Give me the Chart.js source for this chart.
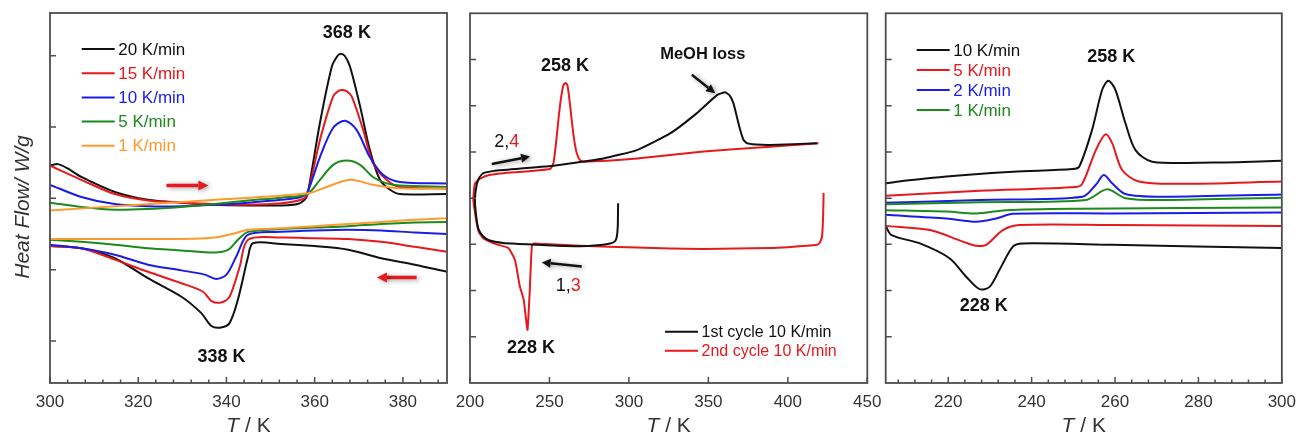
<!DOCTYPE html>
<html>
<head>
<meta charset="utf-8">
<title>DSC heat flow</title>
<script src="https://cdn.jsdelivr.net/npm/chart.js@4.4.1/dist/chart.umd.min.js"></script>
<style>
  body { margin: 0; background: #fff; }
  #wrap { position: relative; width: 1300px; height: 435px; overflow: hidden; }
  canvas { position: absolute; top: 0; }
</style>
</head>
<body>
<div id="wrap">
  <canvas id="p1" width="460" height="435" style="left:0px"></canvas>
  <canvas id="p2" width="470" height="435" style="left:430px"></canvas>
  <canvas id="p3" width="445" height="435" style="left:860px"></canvas>
</div>
<script>
const BLACK = '#111111', RED = '#e5191e', BLUE = '#1c1ce8', GREEN = '#1d8a1d', ORANGE = '#ff9a2e';
const INK = '#333333', FRAME = '#4d4d4d';
const FONT = '"Liberation Sans", Arial, sans-serif';

// ---- left panel: 300-390 K, heating runs (upper) and cooling runs (lower), [T, heat flow] ----
const xTicks1 = [300, 320, 340, 360, 380];
const yTicks1 = [1, 2, 3, 4, 5];
const rates1 = ['20 K/min', '15 K/min', '10 K/min', '5 K/min', '1 K/min'];
const colors1 = [BLACK, RED, BLUE, GREEN, ORANGE];

const heat20 = [[300,3.46],[301.8,3.48],[304,3.42],[307.1,3.30],[314.7,3.09],[322.2,2.98],[329.8,2.94],[337.3,2.91],[344.9,2.90],[352.4,2.90],[356.2,2.92],[357.7,2.98],[358.4,3.06],[361.2,4.06],[363.9,4.85],[365.2,5.00],[365.9,5.03],[366.8,5.00],[368,4.85],[370.3,4.29],[372.5,3.68],[374.8,3.26],[377.1,3.12],[379.3,3.06],[390,3.06]];
const heat15 = [[300,3.46],[307.1,3.26],[314.7,3.06],[322.2,2.97],[329.8,2.94],[337.3,2.92],[344.9,2.91],[352.4,2.93],[356.9,2.98],[358.3,3.05],[361.2,3.82],[364.2,4.43],[365.5,4.51],[366.4,4.52],[367.3,4.50],[368.4,4.43],[371,3.96],[373.2,3.50],[376.3,3.26],[379.3,3.16],[390,3.14]];
const heat10 = [[300,3.19],[307.1,3.02],[314.7,2.92],[322.2,2.89],[329.8,2.89],[337.3,2.91],[344.9,2.94],[352.4,2.98],[356.9,3.02],[358.3,3.08],[361.2,3.58],[364.2,3.99],[366.9,4.09],[369.5,3.96],[372.5,3.58],[375.5,3.33],[379.3,3.23],[390,3.21]];
const heat5 = [[300,2.94],[307.1,2.88],[314.7,2.84],[322.2,2.85],[329.8,2.88],[337.3,2.92],[344.9,2.97],[352.4,3.01],[358.3,3.06],[361.2,3.26],[364.2,3.47],[367.3,3.53],[370.3,3.47],[373.2,3.30],[376.3,3.21],[379.3,3.18],[390,3.16]];
const heat1 = [[300,2.83],[320,2.91],[340,2.99],[358.5,3.07],[362.7,3.16],[368,3.26],[373.2,3.19],[379.3,3.14],[390,3.14]];

const cool20 = [[300,2.33],[307.1,2.30],[314.7,2.16],[322.2,1.88],[329.8,1.62],[334.3,1.39],[336.6,1.21],[338.8,1.19],[340.7,1.25],[342.6,1.58],[344.9,2.18],[346,2.37],[352.4,2.36],[360,2.33],[367.6,2.28],[375.1,2.16],[382.7,2.07],[390,1.97]];
const cool15 = [[300,2.33],[307.1,2.30],[314.7,2.14],[322.2,1.97],[329.8,1.81],[334.7,1.69],[336.6,1.56],[338.8,1.54],[340.7,1.62],[343,2.04],[344.9,2.42],[352.4,2.45],[360,2.44],[367.6,2.43],[375.1,2.39],[382.7,2.32],[390,2.25]];
const cool10 = [[300,2.35],[307.1,2.30],[314.7,2.21],[322.2,2.07],[329.8,1.99],[335.1,1.93],[337.7,1.87],[340,1.93],[342.2,2.18],[344.9,2.49],[352.4,2.53],[360,2.55],[367.6,2.56],[375.1,2.55],[382.7,2.52],[390,2.50]];
const cool5 = [[300,2.42],[307.1,2.39],[314.7,2.35],[322.2,2.30],[329.8,2.27],[337.3,2.24],[340.4,2.28],[342.6,2.42],[344.9,2.53],[352.4,2.57],[360,2.59],[367.6,2.61],[375.1,2.64],[382.7,2.66],[390,2.67]];
const cool1 = [[300,2.43],[314.7,2.43],[329.8,2.43],[337.3,2.45],[341.9,2.51],[344.9,2.56],[352.4,2.58],[360,2.61],[367.6,2.64],[375.1,2.67],[382.7,2.70],[390,2.72]];

const heating1 = [heat20, heat15, heat10, heat5, heat1];
const cooling1 = [cool20, cool15, cool10, cool5, cool1];

// ---- middle panel: two full cycles, points kept in measuring order ----
const xTicks2 = [200, 250, 300, 350, 400, 450];
const yTicks2 = [1, 2, 3, 4, 5, 6, 7];
const cycles2 = ['1st cycle 10 K/min', '2nd cycle 10 K/min'];
const colors2 = [BLACK, RED];

const cycle1 = [[293.2,3.89],[293.0,3.40],[292.4,3.17],[291.3,3.07],[288.2,3.02],[280,2.98],[269.3,2.96],[255,2.97],[242,2.99],[230,3.01],[220.8,3.03],[212,3.09],[208.4,3.17],[205.5,3.32],[204.2,3.53],[203.1,3.96],[204.2,4.29],[206,4.45],[208.4,4.54],[215,4.59],[221,4.61],[252.5,4.70],[284,4.86],[305,5.04],[325.9,5.40],[342.8,5.84],[355.4,6.23],[360.6,6.29],[363.5,6.22],[365.8,6.05],[368,5.75],[370,5.48],[372,5.27],[374.2,5.19],[380,5.16],[388.9,5.15],[418.3,5.19]];
const cycle2 = [[422.5,4.11],[422.2,3.60],[421.5,3.17],[420,3.03],[418.3,2.99],[400,2.94],[388.9,2.92],[346.9,2.90],[305,2.93],[269.3,2.97],[250,3.00],[240.2,3.02],[238.9,2.96],[237.6,2.00],[236.2,1.15],[235.0,1.45],[233.8,1.80],[231.3,2.10],[228.3,2.66],[224.1,2.92],[216.8,3.00],[208.4,3.13],[205.5,3.27],[204.2,3.46],[202.1,3.96],[203.1,4.32],[206.3,4.42],[212,4.50],[221,4.54],[250.4,4.63],[252.5,4.76],[254,5.15],[255.6,5.69],[257.2,6.15],[258.8,6.45],[260.2,6.49],[261.3,6.45],[262.7,6.10],[264,5.69],[265.6,5.25],[267.2,4.97],[269,4.83],[271.3,4.79],[305,4.86],[346.9,5.01],[388.9,5.11],[419.3,5.19]];

// ---- right panel: 205-300 K, heating (upper) and cooling (lower) ----
const xTicks3 = [220, 240, 260, 280, 300];
const yTicks3 = [1, 2, 3, 4, 5, 6, 7];
const rates3 = ['10 K/min', '5 K/min', '2 K/min', '1 K/min'];
const colors3 = [BLACK, RED, BLUE, GREEN];

const h3_10 = [[205,4.32],[210,4.38],[219.6,4.47],[235.5,4.57],[249.8,4.63],[251.4,4.68],[254.5,5.48],[256.9,6.34],[258.4,6.54],[260.1,6.34],[262.5,5.62],[264.9,5.04],[268.9,4.79],[283.2,4.77],[300,4.81]];
const h3_5 = [[205,4.05],[227.5,4.16],[250.6,4.24],[252.2,4.32],[255.4,5.04],[257.7,5.38],[259.3,5.19],[261.7,4.61],[265.7,4.36],[275.2,4.31],[300,4.36]];
const h3_2 = [[205,3.90],[227.5,3.96],[252.2,4.03],[255.4,4.29],[257.3,4.50],[259.3,4.32],[262.5,4.09],[271.3,4.03],[300,4.08]];
const h3_1 = [[205,3.87],[227.5,3.91],[253,3.96],[258.1,4.19],[262.5,4.00],[271.3,3.96],[300,4.01]];
const c3_1 = [[205,3.74],[219.6,3.71],[226.7,3.67],[233.9,3.74],[251.4,3.77],[300,3.80]];
const c3_2 = [[205,3.64],[219.6,3.56],[226.7,3.49],[231.5,3.56],[235.5,3.66],[259.3,3.67],[300,3.69]];
const c3_5 = [[205,3.40],[215.6,3.31],[223.5,3.06],[226.7,2.97],[229.1,2.99],[233.1,3.31],[237.1,3.42],[259.3,3.42],[300,3.40]];
const c3_10 = [[205,3.40],[206.4,3.20],[213.2,3.02],[220.3,2.70],[224.3,2.30],[227.5,2.03],[229.9,2.08],[232.3,2.45],[235.5,2.95],[237.8,3.02],[259.3,2.99],[300,2.92]];

const heating3 = [h3_10, h3_5, h3_2, h3_1];
const cooling3 = [c3_10, c3_5, c3_2, c3_1];

function line(points, color, tension) {
    return {
        data: points.map(p => ({ x: p[0], y: p[1] })),
        borderColor: color,
        borderWidth: 2,
        pointRadius: 0,
        fill: false,
        tension: tension,
        borderJoinStyle: 'round'
    };
}

function arrow(ctx, x1, y1, x2, y2, color, lw, head) {
    const ang = Math.atan2(y2 - y1, x2 - x1);
    const bx = x2 - head * Math.cos(ang), by = y2 - head * Math.sin(ang);
    const hw = head * 0.5;
    ctx.save();
    ctx.shadowColor = 'rgba(0,0,0,0.4)';
    ctx.shadowBlur = 5;
    ctx.shadowOffsetX = 2;
    ctx.shadowOffsetY = 1;
    ctx.strokeStyle = color;
    ctx.fillStyle = color;
    ctx.lineWidth = lw;
    ctx.beginPath();
    ctx.moveTo(x1, y1);
    ctx.lineTo(bx, by);
    ctx.stroke();
    ctx.beginPath();
    ctx.moveTo(x2, y2);
    ctx.lineTo(bx + hw * Math.sin(ang), by - hw * Math.cos(ang));
    ctx.lineTo(bx - hw * Math.sin(ang), by + hw * Math.cos(ang));
    ctx.closePath();
    ctx.fill();
    ctx.restore();
}

// frame, inward ticks, legend, labels, arrows and axis titles
const decor = {
    id: 'decor',
    afterDraw(chart, args, o) {
        const ctx = chart.ctx, a = chart.chartArea;
        const xs = chart.scales.x, ys = chart.scales.y;
        const px = v => xs.getPixelForValue(v), py = v => ys.getPixelForValue(v);
        ctx.save();

        ctx.strokeStyle = FRAME;
        ctx.lineWidth = 1.5;
        ctx.beginPath();
        xs.ticks.forEach(t => { ctx.moveTo(px(t.value), a.bottom); ctx.lineTo(px(t.value), a.bottom - 6); });
        if (o.minor) {
            for (let v = Math.ceil(xs.min / o.minor) * o.minor; v < xs.max; v += o.minor) {
                ctx.moveTo(px(v), a.bottom);
                ctx.lineTo(px(v), a.bottom - 3.5);
            }
        }
        ys.ticks.forEach(t => { ctx.moveTo(a.left, py(t.value)); ctx.lineTo(a.left + 6, py(t.value)); });
        ctx.stroke();
        ctx.lineWidth = 1.8;
        ctx.strokeRect(a.left, a.top, a.right - a.left, a.bottom - a.top);

        const lg = o.legend;
        ctx.font = lg.size + 'px ' + FONT;
        ctx.textAlign = 'left';
        ctx.textBaseline = 'middle';
        lg.labels.forEach((lab, i) => {
            const y = a.top + lg.top + i * lg.step;
            const x = a.left + lg.left;
            ctx.strokeStyle = lg.colors[i];
            ctx.lineWidth = 2;
            ctx.beginPath();
            ctx.moveTo(x, y);
            ctx.lineTo(x + 33, y);
            ctx.stroke();
            ctx.fillStyle = lg.colors[i];
            ctx.fillText(lab, x + 36.5, y + 1);
        });

        (o.texts || []).forEach(t => {
            ctx.font = t.font;
            const w = t.parts.reduce((s, p) => s + ctx.measureText(p[0]).width, 0);
            let x = px(t.at[0]) - w / 2;
            const y = py(t.at[1]);
            t.parts.forEach(p => {
                ctx.fillStyle = p[1];
                ctx.fillText(p[0], x, y);
                x += ctx.measureText(p[0]).width;
            });
        });

        (o.arrows || []).forEach(r => arrow(ctx, px(r.from[0]), py(r.from[1]), px(r.to[0]), py(r.to[1]), r.color, r.width, r.head));

        const it = 'italic 21px ' + FONT, rg = '21px ' + FONT;
        ctx.fillStyle = INK;
        ctx.textBaseline = 'alphabetic';
        ctx.font = it;
        const w1 = ctx.measureText('T').width;
        ctx.font = rg;
        const w2 = ctx.measureText(' / K').width;
        const x0 = (a.left + a.right) / 2 - (w1 + w2) / 2;
        ctx.font = it;
        ctx.fillText('T', x0, a.bottom + 49);
        ctx.font = rg;
        ctx.fillText(' / K', x0 + w1, a.bottom + 49);

        if (o.yTitle) {
            ctx.save();
            ctx.translate(a.left - 27, (a.top + a.bottom) / 2 + 9);
            ctx.rotate(-Math.PI / 2);
            ctx.font = it;
            ctx.textAlign = 'center';
            ctx.textBaseline = 'middle';
            ctx.fillText(o.yTitle, 0, 0);
            ctx.restore();
        }
        ctx.restore();
    }
};

function panel(id, cfg) {
    return new Chart(document.getElementById(id), {
        type: 'line',
        data: { datasets: cfg.datasets },
        options: {
            responsive: false,
            animation: false,
            events: [],
            layout: { padding: cfg.pad },
            scales: {
                x: {
                    type: 'linear', min: cfg.x[0], max: cfg.x[1],
                    afterBuildTicks: s => { s.ticks = cfg.xTicks.map(v => ({ value: v })); },
                    afterFit: s => { s.height = 52; },
                    grid: { display: false, drawTicks: false },
                    border: { display: false },
                    ticks: { color: INK, font: { size: 17, family: FONT }, padding: 9, maxRotation: 0, autoSkip: false }
                },
                y: {
                    type: 'linear', min: cfg.y[0], max: cfg.y[1],
                    afterBuildTicks: s => { s.ticks = cfg.yTicks.map(v => ({ value: v })); },
                    afterFit: s => { s.width = 0; },
                    grid: { display: false, drawTicks: false },
                    border: { display: false },
                    ticks: { display: false }
                }
            },
            plugins: { legend: { display: false }, tooltip: { enabled: false }, decor: cfg.decor }
        },
        plugins: [decor]
    });
}

const bold18 = 'bold 18px ' + FONT;

const sets1 = [];
for (let i = rates1.length - 1; i >= 0; i--) {
    sets1.push(line(heating1[i], colors1[i], 0.3));
    sets1.push(line(cooling1[i], colors1[i], 0.3));
}
panel('p1', {
    datasets: sets1,
    pad: { left: 50, right: 13, top: 13, bottom: 0 },
    x: [300, 390], y: [0.41, 5.6], xTicks: xTicks1, yTicks: yTicks1,
    decor: {
        minor: 4,
        yTitle: 'Heat Flow/ W/g',
        legend: { labels: rates1, colors: colors1, left: 31.7, top: 36, step: 24.2, size: 17 },
        texts: [
            { parts: [['368 K', BLACK]], at: [367.3, 5.32], font: bold18 },
            { parts: [['338 K', BLACK]], at: [338.9, 0.78], font: bold18 }
        ],
        arrows: [
            { from: [326.4, 3.18], to: [335.9, 3.18], color: RED, width: 3.5, head: 10 },
            { from: [383.1, 1.89], to: [374.1, 1.89], color: RED, width: 3.5, head: 10 }
        ]
    }
});

panel('p2', {
    datasets: [line(cycle1, colors2[0], 0.15), line(cycle2, colors2[1], 0.15)],
    pad: { left: 40, right: 32.7, top: 13.3, bottom: 0 },
    x: [200, 450], y: [0, 8], xTicks: xTicks2, yTicks: yTicks2,
    decor: {
        legend: { labels: cycles2, colors: colors2, left: 195, top: 318.4, step: 19, size: 16 },
        texts: [
            { parts: [['258 K', BLACK]], at: [259.8, 6.85], font: bold18 },
            { parts: [['MeOH loss', BLACK]], at: [346.5, 7.10], font: 'bold 16.5px ' + FONT },
            { parts: [['2,', BLACK], ['4', RED]], at: [223.1, 5.22], font: '18px ' + FONT },
            { parts: [['1,', BLACK], ['3', RED]], at: [261.9, 2.10], font: '18px ' + FONT },
            { parts: [['228 K', BLACK]], at: [238.4, 0.75], font: bold18 }
        ],
        arrows: [
            { from: [339.6, 6.67], to: [354.3, 6.27], color: BLACK, width: 2.5, head: 9 },
            { from: [213.7, 4.74], to: [237.8, 4.90], color: BLACK, width: 2.5, head: 9 },
            { from: [270.3, 2.52], to: [245.1, 2.61], color: BLACK, width: 2.5, head: 9 }
        ]
    }
});

const sets3 = [];
for (let i = rates3.length - 1; i >= 0; i--) {
    sets3.push(line(heating3[i], colors3[i], 0.3));
    sets3.push(line(cooling3[i], colors3[i], 0.3));
}
panel('p3', {
    datasets: sets3,
    pad: { left: 25.7, right: 21.7, top: 13.3, bottom: 0 },
    x: [205, 300], y: [0, 8], xTicks: xTicks3, yTicks: yTicks3,
    decor: {
        minor: 4,
        legend: { labels: rates3, colors: colors3, left: 31, top: 36.7, step: 20, size: 17 },
        texts: [
            { parts: [['258 K', BLACK]], at: [259.1, 7.06], font: bold18 },
            { parts: [['228 K', BLACK]], at: [228.5, 1.67], font: bold18 }
        ]
    }
});
</script>
</body>
</html>
